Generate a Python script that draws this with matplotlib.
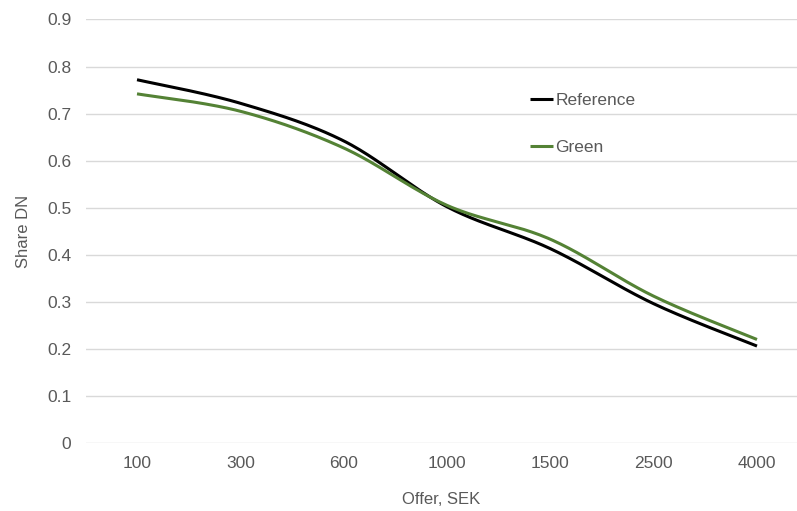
import numpy as np
import matplotlib
matplotlib.use("Agg")
import matplotlib.pyplot as plt

categories = ["100", "300", "600", "1000", "1500", "2500", "4000"]
reference = [0.772, 0.722, 0.642, 0.502, 0.413, 0.296, 0.206]
green = [0.742, 0.705, 0.627, 0.505, 0.433, 0.312, 0.220]
yticks = [0, 0.1, 0.2, 0.3, 0.4, 0.5, 0.6, 0.7, 0.8, 0.9]

plt.rcParams['font.family'] = ['Liberation Sans', 'DejaVu Sans']
TXT = '#595959'
FS = 12.5


def smooth(xs, ys, n=40):
    xs = np.asarray(xs, float); ys = np.asarray(ys, float)
    P = np.column_stack([xs, ys])
    out = []
    for i in range(len(P) - 1):
        p0 = P[i - 1] if i > 0 else P[i]
        p1 = P[i]; p2 = P[i + 1]
        p3 = P[i + 2] if i + 2 < len(P) else P[i + 1]
        c1 = p1 + (p2 - p0) / 6.0
        c2 = p2 - (p3 - p1) / 6.0
        t = np.linspace(0, 1, n)[:, None]
        seg = ((1 - t) ** 3) * p1 + 3 * ((1 - t) ** 2) * t * c1 + 3 * (1 - t) * t ** 2 * c2 + t ** 3 * p2
        out.append(seg if i == 0 else seg[1:])
    out = np.vstack(out)
    return out[:, 0], out[:, 1]


W, H = 797, 511
fig = plt.figure(figsize=(W / 100, H / 100), dpi=100)
left, right = 86, 797
top, bottom = 19.5, 443
ax = fig.add_axes([left / W, 1 - bottom / H, (right - left) / W, (bottom - top) / H])

x = np.arange(len(categories))
step = 103.3
ax.set_xlim(-(137 - left) / step, 6 + (right - 757) / step)
ax.set_ylim(0, 0.9)

xr, yr = smooth(x, reference)
xg, yg = smooth(x, green)
ax.plot(xr, yr, color='#000000', lw=2.2, label='Reference', solid_capstyle='butt', zorder=3)
ax.plot(xg, yg, color='#548235', lw=2.2, label='Green', solid_capstyle='butt', zorder=3)

ax.set_yticks(yticks)
ax.set_yticklabels(['0' if v == 0 else f'{v:.1f}' for v in yticks])
ax.set_xticks(x)
ax.set_xticklabels(categories)
ax.grid(axis='y', color='#d9d9d9', lw=1)
ax.set_axisbelow(True)
for s in ax.spines.values():
    s.set_visible(False)
ax.tick_params(axis='both', length=0, colors=TXT, labelsize=FS)
ax.tick_params(axis='y', pad=10.5)
ax.tick_params(axis='x', pad=9.5)

ax.set_ylabel('Share DN', color=TXT, fontsize=12, labelpad=12)
ax.set_xlabel('Offer, SEK', color=TXT, fontsize=12, labelpad=15)

leg = ax.legend(loc='upper left', bbox_to_anchor=((530 - left) / (right - left), 1 - (93 - top) / (bottom - top)),
                frameon=False, fontsize=FS, handlelength=1.32, handletextpad=0.15,
                labelspacing=1.85, borderaxespad=0, borderpad=0)
for t in leg.get_texts():
    t.set_color(TXT)

fig.savefig('out.png', dpi=100)
